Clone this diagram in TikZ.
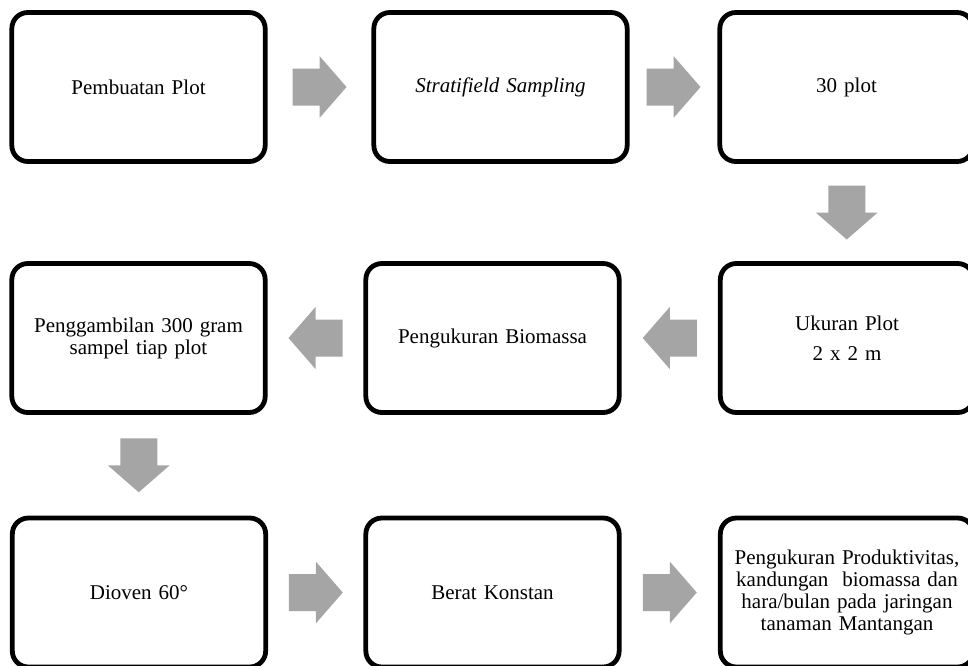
\documentclass[tikz,border=0pt]{standalone}
\usepackage{fontspec}
\setmainfont{Liberation Serif}
\usetikzlibrary{calc, positioning}
\definecolor{arrowgray}{HTML}{A5A5A5}
\tikzset{
	px/.style={x=0.5pt,y=-0.5pt},
	block/.style={
		rectangle, rounded corners=8pt,
		draw=black, line width=2.4pt,
		fill=white,
		minimum width=126pt, minimum height=74.5pt,
		text width=120pt, align=center,
		font=\fontsize{10.5}{11}\selectfont
	},
	flow/.style={fill=arrowgray}
}
%% block arrow half way between two nodes, turned by #3
\newcommand{\flowarrow}[3]{%
	\fill[flow, shift={($(#1)!0.5!(#2)$)}, rotate=#3]
		(-27,-18.5) -- (0,-18.5) -- (0,-31) -- (27,0) -- (0,31) -- (0,18.5) -- (-27,18.5) -- cycle;
}

\begin{document}
\begin{tikzpicture}[px]

	\useasboundingbox (0,0) rectangle (968,665);

	%% first row
	\node[block] (pembuatan)	at (138.5,87)	{Pembuatan Plot};
	\node[block] (sampling)		at (500.5,87)	{\itshape Stratifield Sampling};
	\node[block] (plot)			at (846.5,87)	{30 plot};

	%% second row
	\node[block] (ukuran)		at (847,338)	{Ukuran Plot\\[4pt]2 x 2 m};
	\node[block] (biomassa)		at (492.5,338)	{Pengukuran Biomassa};
	\node[block] (sampel)		at (138.5,338)	{Penggambilan 300 gram\\sampel tiap plot};

	%% third row
	\node[block] (dioven)		at (139,592.5)	{Dioven 60°};
	\node[block] (berat)		at (492.5,592.5)	{Berat Konstan};
	\node[block] (produktivitas)	at (847,592.5)	{Pengukuran Produktivitas,\\kandungan\ \ biomassa dan\\hara/bulan pada jaringan\\tanaman Mantangan};

	\foreach \from/\to/\ang in {pembuatan/sampling/0, sampling/plot/0, plot/ukuran/-90,
		ukuran/biomassa/180, biomassa/sampel/180, sampel/dioven/-90,
		dioven/berat/0, berat/produktivitas/0}
	{
		\flowarrow{\from}{\to}{\ang}
	}

\end{tikzpicture}
\end{document}
